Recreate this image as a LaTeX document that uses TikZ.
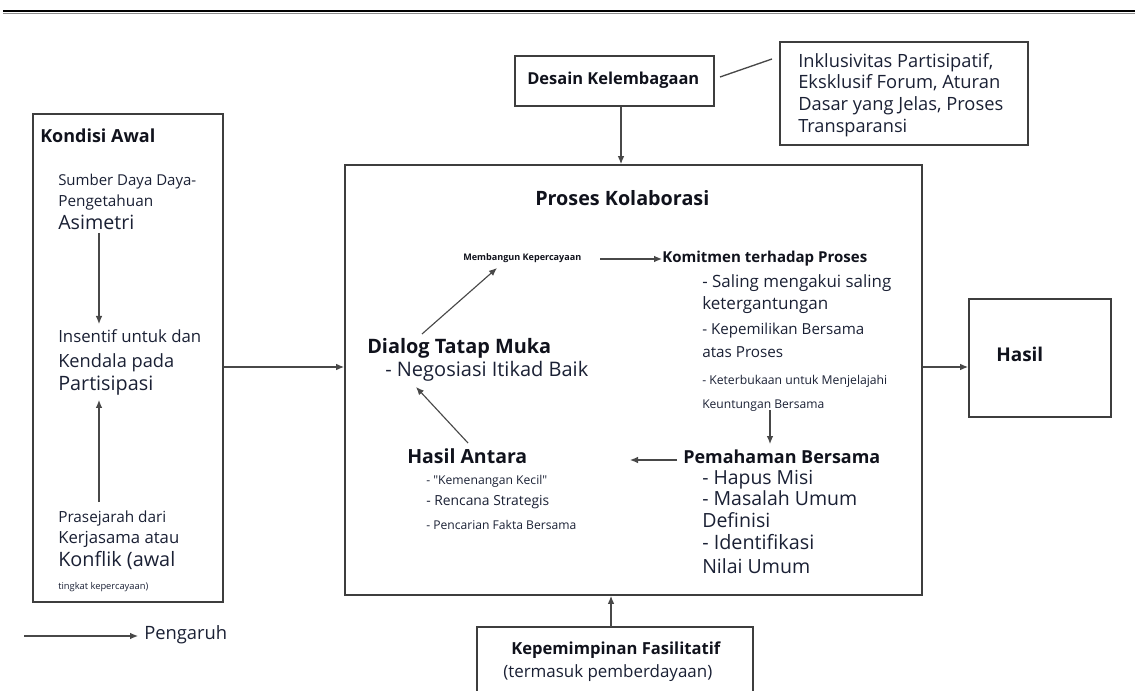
\documentclass[tikz,border=0pt]{standalone}
\usepackage{fontspec}
\setmainfont{Open Sans}
\newfontfamily\plainos{Open Sans}
\usepackage{graphicx}
\usetikzlibrary{arrows.meta}
\definecolor{txtc}{RGB}{26,32,52}
\definecolor{boldc}{RGB}{16,18,28}
\definecolor{boxc}{RGB}{62,62,62}
\definecolor{arrc}{RGB}{72,72,72}
\newlength\pxu
\setlength\pxu{0.75pt}
\newcommand\fw[2]{\resizebox{#1\pxu}{!}{#2}}
\newcommand\sq{{\plainos"}}
\tikzset{
  box/.style={draw=boxc, line width=1.4pt, inner sep=0pt},
  arr/.style={draw=arrc, line width=0.85pt, -{Latex[length=6pt,width=5pt]}},
  ln/.style={draw=arrc, line width=1pt},
  txt/.style={anchor=base west, inner sep=0pt, text=txtc, font=\fontsize{10}{12}\selectfont},
  btxt/.style={txt, text=boldc, font=\fontsize{10}{12}\selectfont\bfseries},
}
\begin{document}
\begin{tikzpicture}[x=0.75pt,y=-0.75pt]
\useasboundingbox (0,0) rectangle (1135,691);
% top rule
\draw[line width=2.1pt,black] (3,11) -- (1135,11);
\draw[line width=0.8pt,black!45] (3,13.2) -- (1135,13.2);

% boxes
\node[box, minimum width=142.5pt, minimum height=366pt] (kond) at (128,358) {};
\node[box, minimum width=149.25pt, minimum height=37.5pt] (desain) at (614.5,81) {};
\node[box, minimum width=186pt, minimum height=77pt] (inkl) at (904,93.5) {};
\node[box, minimum width=432.75pt, minimum height=322.5pt] (proses) at (633.5,380) {};
\node[box, minimum width=106.5pt, minimum height=88.5pt] (hasil) at (1040,358) {};
\node[inner sep=0pt, minimum width=207pt, minimum height=50pt] (kep) at (615,660.3) {};
\draw[box] (kep.south west) -- (kep.north west) -- (kep.north east) -- (kep.south east);

% Kondisi Awal texts
\node[btxt] (kt) at (40,143) {\fw{115}{Kondisi Awal}};
\node[txt] (s1) at (58,186) {\fw{138}{Sumber Daya Daya-}};
\node[txt] (s2) at (58,207) {\fw{95}{Pengetahuan}};
\node[txt] (s3) at (58,230) {\fw{76}{Asimetri}};
\node[txt] (i1) at (58,343) {\fw{143}{Insentif untuk dan}};
\node[txt] (i2) at (58,368) {\fw{116}{Kendala pada}};
\node[txt] (i3) at (58,391) {\fw{95}{Partisipasi}};
\node[txt] (p1) at (58,522) {\fw{108}{Prasejarah dari}};
\node[txt] (p2) at (58,543) {\fw{121}{Kerjasama atau}};
\node[txt] (p3) at (58,566) {\fw{117}{Konflik (awal}};
\node[txt] (p4) at (58,589) {\fw{90}{tingkat kepercayaan)}};
\coordinate (a1s) at (99,233);
\coordinate (a1e) at (99,324);
\coordinate (a2s) at (99,502);
\coordinate (a2e) at (99,400);
\draw[arr] (a1s) -- (a1e);
\draw[arr] (a2s) -- (a2e);

% legend
\node[txt] (peng) at (144,639) {\fw{83}{Pengaruh}};
\coordinate (legs) at (24,636);
\coordinate (lege) at (138,636);
\draw[arr] (legs) -- (lege);

% Desain & Inklusivitas
\node[btxt] (dt) at (527,85) {\fw{172}{Desain Kelembagaan}};
\node[txt] (n1) at (798,68) {\fw{195}{Inklusivitas Partisipatif,}};
\node[txt] (n2) at (798,89) {\fw{202}{Eksklusif Forum, Aturan}};
\node[txt] (n3) at (798,111) {\fw{205}{Dasar yang Jelas, Proses}};
\node[txt] (n4) at (798,133) {\fw{109}{Transparansi}};
\coordinate (l1) at (720,77);
\coordinate (l2) at (772,59);
\draw[ln] (l1) -- (l2);

% Proses Kolaborasi
\node[btxt] (pt) at (535,206) {\fw{174}{Proses Kolaborasi}};
\node[btxt] (mb) at (463,261) {\fw{118}{Membangun Kepercayaan}};
\node[btxt] (km) at (662,263) {\fw{205}{Komitmen terhadap Proses}};
\node[txt] (k1) at (702,288) {\fw{189}{- Saling mengakui saling}};
\node[txt] (k2) at (702,310) {\fw{126}{ketergantungan}};
\node[txt] (k3) at (702,335) {\fw{162}{- Kepemilikan Bersama}};
\node[txt] (k4) at (702,358) {\fw{81}{atas Proses}};
\node[txt] (k5) at (702,385) {\fw{185}{- Keterbukaan untuk Menjelajahi}};
\node[txt] (k6) at (702,408) {\fw{122}{Keuntungan Bersama}};
\node[btxt] (pm) at (683,463) {\fw{197}{Pemahaman Bersama}};
\node[txt] (m1) at (702,484) {\fw{111}{- Hapus Misi}};
\node[txt] (m2) at (702,505) {\fw{155}{- Masalah Umum}};
\node[txt] (m3) at (702,527) {\fw{68}{Definisi}};
\node[txt] (m4) at (702,549) {\fw{112}{- Identifikasi}};
\node[txt] (m5) at (702,573) {\fw{108}{Nilai Umum}};
\node[btxt] (ha) at (407,463) {\fw{120}{Hasil Antara}};
\node[txt] (h1) at (426,484) {\fw{121}{- \sq Kemenangan Kecil\sq}};
\node[txt] (h2) at (426,505) {\fw{123}{- Rencana Strategis}};
\node[txt] (h3) at (426,529) {\fw{150}{- Pencarian Fakta Bersama}};
\node[btxt] (dl) at (367,354) {\fw{184}{Dialog Tatap Muka}};
\node[txt] (d1) at (385,377) {\fw{203}{- Negosiasi Itikad Baik}};

\coordinate (b1s) at (422,334);
\coordinate (b1e) at (497,268);
\coordinate (b2s) at (600,259);
\coordinate (b3s) at (770,410);
\coordinate (b3e) at (770,444);
\coordinate (b4s) at (677,460);
\coordinate (b4e) at (630,460);
\coordinate (b5s) at (468,443);
\coordinate (b5e) at (416,387);
\draw[arr] (b1s) -- (b1e);
\draw[arr] (b2s) -- (km.west |- b2s);
\draw[arr] (b3s) -- (b3e);
\draw[arr] (b4s) -- (b4e);
\draw[arr] (b5s) -- (b5e);

% Hasil
\node[btxt] (hs) at (996,362) {\fw{47}{Hasil}};

% Kepemimpinan
\node[btxt] (kp1) at (511,654) {\fw{209}{Kepemimpinan Fasilitatif}};
\node[txt] (kp2) at (503,677) {\fw{209}{(termasuk pemberdayaan)}};

% main connectors
\coordinate (ky) at (0,367);
\coordinate (dx) at (621,0);
\coordinate (kx) at (611,0);
\draw[arr] (kond.east |- ky) -- (proses.west |- ky);
\draw[arr] (proses.east |- ky) -- (hasil.west |- ky);
\draw[arr] (desain.south -| dx) -- (proses.north -| dx);
\draw[arr] (kep.north -| kx) -- (proses.south -| kx);
\end{tikzpicture}
\end{document}
